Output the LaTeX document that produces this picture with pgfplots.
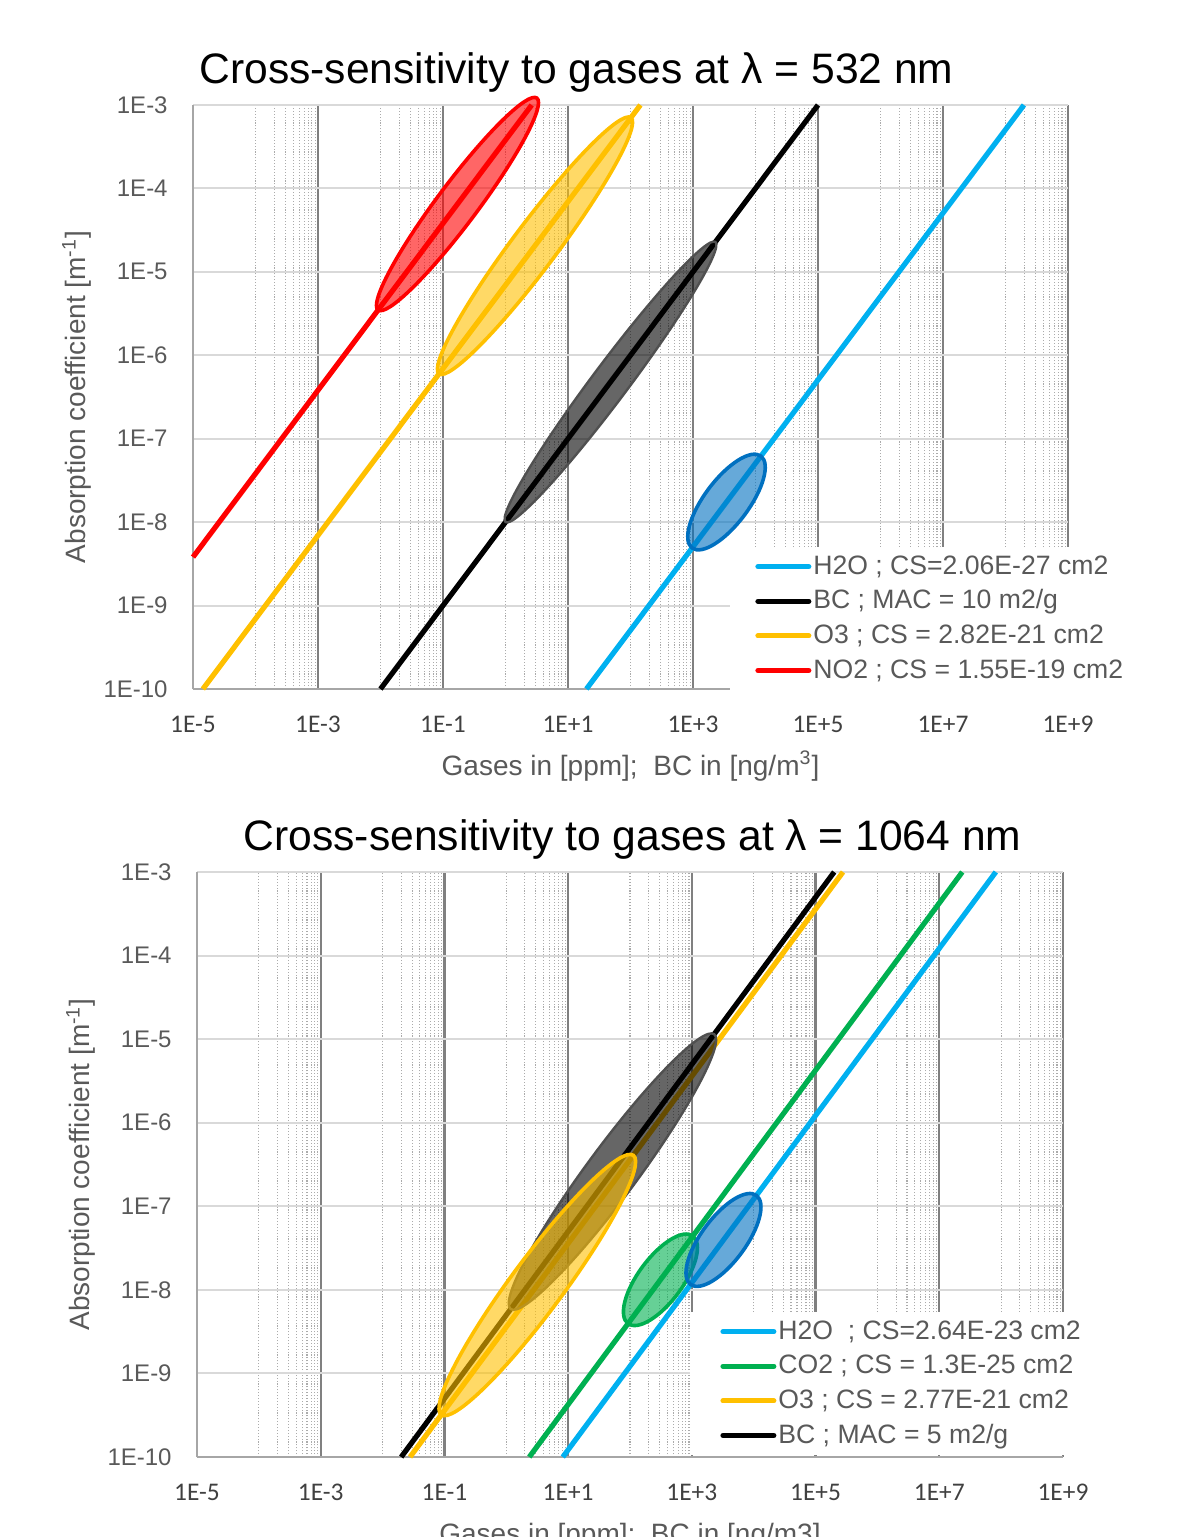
\documentclass[border=0pt]{standalone}
\usepackage{fontspec}
\setmainfont{Liberation Sans}
\newfontfamily\carlito{Carlito}
\usepackage{pgfplots}
\usepackage{pgfplotstable}
\pgfplotsset{compat=1.18}
\usetikzlibrary{shapes.geometric}
\definecolor{cblue}{HTML}{00B0F0}
\definecolor{cyel}{HTML}{FFC000}
\definecolor{cgreen}{HTML}{00B050}
\definecolor{cdblue}{HTML}{0070C0}
\definecolor{cgrayt}{HTML}{595959}
\definecolor{cxtick}{HTML}{404040}
\definecolor{cgrid}{HTML}{D9D9D9}
\definecolor{cmaj}{HTML}{808080}
\definecolor{cmin}{HTML}{ABABAB}
\definecolor{caxis}{HTML}{A6A6A6}
\definecolor{cbcedge}{HTML}{505050}

\tikzset{ell/.style={ellipse, inner sep=0pt, fill opacity=0.6, line width=1.8pt}}

\pgfplotsset{every axis/.append style={
    scale only axis,
    xmin=1e-5, xmax=1e9, ymin=1e-10, ymax=1e-3,
    xtick={1e-5,1e-3,1e-1,1e1,1e3,1e5,1e7,1e9},
    xticklabels={1E-5,1E-3,1E-1,1E+1,1E+3,1E+5,1E+7,1E+9},
    minor xtick={1e-4,2e-4,3e-4,4e-4,5e-4,6e-4,7e-4,8e-4,9e-4,
                 1e-2,2e-2,3e-2,4e-2,5e-2,6e-2,7e-2,8e-2,9e-2,
                 1,2,3,4,5,6,7,8,9,
                 100,200,300,400,500,600,700,800,900,
                 1e4,2e4,3e4,4e4,5e4,6e4,7e4,8e4,9e4,
                 1e6,2e6,3e6,4e6,5e6,6e6,7e6,8e6,9e6,
                 1e8,2e8,3e8,4e8,5e8,6e8,7e8,8e8,9e8},
    ytick={1e-10,1e-9,1e-8,1e-7,1e-6,1e-5,1e-4,1e-3},
    yticklabels={1E-10,1E-9,1E-8,1E-7,1E-6,1E-5,1E-4,1E-3},
    xmajorgrids, xminorgrids, ymajorgrids,
    major x grid style={draw=cmaj, line width=1.1pt},
    minor x grid style={draw=cmin, line width=0.55pt, dash pattern=on 0.55pt off 0.9pt},
    major y grid style={draw=cgrid, line width=1pt},
    major tick length=0pt, minor tick length=0pt,
    axis x line*=bottom, axis y line*=left,
    axis line style={draw=caxis, line width=1pt, -},
    xticklabel style={font=\carlito\fontsize{12.7}{14}\selectfont, text=cxtick, anchor=base, inner sep=0pt, yshift=-21.5pt},
    yticklabel style={font=\fontsize{12}{14}\selectfont, text=cgrayt, anchor=east, inner sep=0pt, xshift=-12.5pt},
    xlabel style={font=\fontsize{14}{16}\selectfont, text=cgrayt, anchor=base, inner sep=0pt},
    ylabel style={font=\fontsize{14}{16}\selectfont, text=cgrayt, anchor=base, inner sep=0pt},
    title style={font=\fontsize{21.3}{25}\selectfont, anchor=base, inner sep=0pt},
    clip=false,
    legend cell align=left,
    legend style={draw=none, fill=white, anchor=north west,
      font=\fontsize{13.3}{16}\selectfont, text=cgrayt,
      inner ysep=1pt, column sep=1pt, row sep=0pt,
      nodes={inner xsep=0pt, inner ysep=0pt, text height=12.5pt, text depth=4.8pt}},
  }
}

\pgfplotstableread{
x y
19.72 1e-10
1e2 5.07e-10
1e4 5.07e-8
1e6 5.07e-6
1e8 5.07e-4
1.972e8 1e-3
}\tA
\pgfplotstableread{
x y
1e-2 1e-10
1 1e-8
1e2 1e-6
1e4 1e-4
1e5 1e-3
}\tB
\pgfplotstableread{
x y
1.441e-5 1e-10
1e-4 6.94e-10
1e-2 6.94e-8
1 6.94e-6
1e2 6.94e-4
144.1 1e-3
}\tC
\pgfplotstableread{
x y
1e-5 3.81e-9
1e-3 3.81e-7
1e-1 3.81e-5
1 3.81e-4
2.625 1e-3
}\tD
\pgfplotstableread{
x y
8.2 1e-10
1e2 1.22e-9
1e4 1.22e-7
1e6 1.22e-5
8.2e7 1e-3
}\bA
\pgfplotstableread{
x y
2.353 1e-10
1e2 4.25e-9
1e4 4.25e-7
1e6 4.25e-5
2.353e7 1e-3
}\bB
\pgfplotstableread{
x y
2.778e-2 1e-10
1 3.6e-9
1e2 3.6e-7
1e4 3.6e-5
2.778e5 1e-3
}\bC
\pgfplotstableread{
x y
2e-2 1e-10
1 5e-9
1e2 5e-7
1e4 5e-5
2e5 1e-3
}\bD

\begin{document}
\begin{tikzpicture}
\useasboundingbox (0,0) rectangle (593pt,768.5pt);
% ---------------- top chart ----------------
\begin{loglogaxis}[at={(96.5pt,424pt)}, anchor=south west,
  width=437.5pt, height=292pt,
  legend image code/.code={\draw[#1, line cap=round] (1.3pt,0pt) -- (26.7pt,0pt);},
  title={Cross-sensitivity to gases at λ = 532 nm},
  title style={at={(axis description cs:0.4383,1.0171)}},
  xlabel={Gases in [ppm];\ \ BC in [ng/m\textsuperscript{3}]},
  xlabel style={at={(axis description cs:0.5,-0.1473)}},
  ylabel={Absorption coefficient [m\textsuperscript{-1}]},
  ylabel style={at={(axis description cs:-0.1223,0.5)}},
  legend style={at={(axis description cs:0.6137,0.2432)}, inner xsep=12.5pt},
]
\addplot[cblue, line width=2.6pt] table {\tA};
\addlegendentry{H2O ; CS=2.06E-27 cm2}
\addplot[black, line width=2.6pt] table {\tB};
\addlegendentry{BC ; MAC = 10 m2/g}
\addplot[cyel, line width=2.6pt] table {\tC};
\addlegendentry{O3 ; CS = 2.82E-21 cm2}
\addplot[red, line width=2.6pt] table {\tD};
\addlegendentry{NO2 ; CS = 1.55E-19 cm2}
\node[ell, draw=red, fill=red, minimum width=132.4pt, minimum height=20.2pt, rotate=53.16] at (axis cs:0.1706,6.5e-5) {};
\node[ell, draw=cyel, fill=cyel, minimum width=160pt, minimum height=22.2pt, rotate=53.16] at (axis cs:2.965,2.058e-5) {};
\node[ell, draw=cbcedge, fill=black, line width=1.2pt, minimum width=175pt, minimum height=18pt, rotate=53.16] at (axis cs:47.86,4.786e-7) {};
\node[ell, draw=cdblue, fill=cdblue, minimum width=57.4pt, minimum height=22.2pt, rotate=53.16] at (axis cs:3436,1.742e-8) {};
\end{loglogaxis}
% ---------------- bottom chart ----------------
\begin{loglogaxis}[at={(98.5pt,40pt)}, anchor=south west,
  width=433pt, height=292.5pt,
  legend image code/.code={\draw[#1, line cap=round] (1.3pt,0pt) -- (26.7pt,0pt);},
  title={Cross-sensitivity to gases at λ = 1064 nm},
  title style={at={(axis description cs:0.503,1.0171)}},
  xlabel={Gases in [ppm];\ \ BC in [ng/m3]},
  xlabel style={at={(axis description cs:0.5,-0.1470)}},
  ylabel={Absorption coefficient [m\textsuperscript{-1}]},
  ylabel style={at={(axis description cs:-0.1236,0.5)}},
  legend style={at={(axis description cs:0.5693,0.2479)}, inner xsep=15pt},
]
\addplot[cblue, line width=2.6pt] table {\bA};
\addlegendentry{H2O\ \ ; CS=2.64E-23 cm2}
\addplot[cgreen, line width=2.6pt] table {\bB};
\addlegendentry{CO2 ; CS = 1.3E-25 cm2}
\addplot[cyel, line width=2.6pt] table {\bC};
\addlegendentry{O3 ; CS = 2.77E-21 cm2}
\addplot[black, line width=2.6pt] table {\bD};
\addlegendentry{BC ; MAC = 5 m2/g}
\node[ell, draw=cbcedge, fill=black, line width=1.2pt, minimum width=171pt, minimum height=25pt, rotate=53.49] at (axis cs:52,2.6e-7) {};
\node[ell, draw=cyel, fill=cyel, minimum width=161.4pt, minimum height=26.2pt, rotate=53.49] at (axis cs:3.173,1.142e-8) {};
\node[ell, draw=cgreen, fill=cgreen, minimum width=54.5pt, minimum height=22.2pt, rotate=53.49] at (axis cs:310.5,1.32e-8) {};
\node[ell, draw=cdblue, fill=cdblue, minimum width=55.4pt, minimum height=22.2pt, rotate=53.49] at (axis cs:3243,3.957e-8) {};
\end{loglogaxis}
\end{tikzpicture}
\end{document}
